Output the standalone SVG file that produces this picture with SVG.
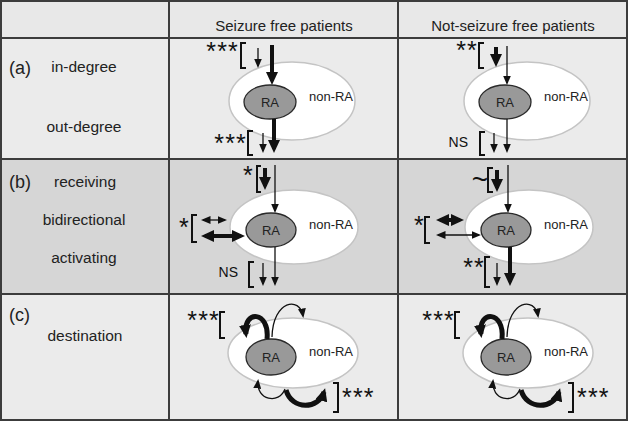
<svg xmlns="http://www.w3.org/2000/svg" width="630" height="422" viewBox="0 0 630 422">
<defs>
<style>
.grid{stroke:#3c3c3c;stroke-width:2;fill:none}
.hdr{font-family:"Liberation Sans",Arial,sans-serif;font-size:15px;fill:#222;text-anchor:middle}
.lbl{font-family:"Liberation Sans",Arial,sans-serif;font-size:15.5px;fill:#222;text-anchor:middle}
.tag{font-family:"Liberation Sans",Arial,sans-serif;font-size:18px;fill:#222}
.outer{fill:#fff;stroke:#c4c4c4;stroke-width:1.5}
.ra{fill:#999;stroke:#2a2a2a;stroke-width:1.3}
.nt{font-family:"Liberation Sans",Arial,sans-serif;font-size:13px;fill:#222;text-anchor:middle}
.star{font-family:"Liberation Sans",Arial,sans-serif;font-size:25px;fill:#111;text-anchor:end;letter-spacing:1.2px}
.ns{font-family:"Liberation Sans",Arial,sans-serif;font-size:14px;fill:#111;text-anchor:end}
.thin{stroke:#111;stroke-width:1.3;fill:none;marker-end:url(#ht)}
.thick{stroke:#111;stroke-width:4;fill:none;marker-end:url(#hk)}
.loop{stroke:#111;stroke-width:5;fill:none;marker-end:url(#hk)}
.dthin{stroke:#111;stroke-width:1.3;fill:none;marker-start:url(#ht);marker-end:url(#ht)}
.dthick{stroke:#111;stroke-width:4;fill:none;marker-start:url(#hk);marker-end:url(#hk)}
.br{stroke:#111;stroke-width:2;fill:none}
</style>
<marker id="ht" markerUnits="userSpaceOnUse" viewBox="0 0 9.5 8" markerWidth="9.5" markerHeight="8" refX="7.5" refY="4" orient="auto-start-reverse"><path d="M0,0 L9.5,4 L0,8 z" fill="#111"/></marker>
<marker id="hk" markerUnits="userSpaceOnUse" viewBox="0 0 13 12" markerWidth="13" markerHeight="12" refX="9" refY="6" orient="auto-start-reverse"><path d="M0,0 L13,6 L0,12 z" fill="#111"/></marker>
</defs>

<g id="table">
<rect x="1" y="1" width="626" height="37" fill="#e8e8e8"/>
<rect x="1" y="38" width="626" height="121" fill="#ebebeb"/>
<rect x="1" y="159" width="626" height="135" fill="#d6d6d6"/>
<rect x="1" y="294" width="626" height="126" fill="#ebebeb"/>
<rect class="grid" x="1" y="1" width="626" height="419"/>
<line class="grid" x1="1" y1="38" x2="627" y2="38"/>
<line class="grid" x1="1" y1="159" x2="627" y2="159"/>
<line class="grid" x1="1" y1="294" x2="627" y2="294"/>
<line class="grid" x1="169" y1="1" x2="169" y2="420"/>
<line class="grid" x1="398" y1="1" x2="398" y2="420"/>
<text class="hdr" x="284" y="31">Seizure free patients</text>
<text class="hdr" x="513" y="31">Not-seizure free patients</text>
<text class="tag" x="9" y="74">(a)</text>
<text class="lbl" x="84" y="72">in-degree</text>
<text class="lbl" x="84" y="132">out-degree</text>
<text class="tag" x="9" y="188">(b)</text>
<text class="lbl" x="85" y="187">receiving</text>
<text class="lbl" x="84" y="225">bidirectional</text>
<text class="lbl" x="84" y="263">activating</text>
<text class="tag" x="9" y="321">(c)</text>
<text class="lbl" x="85" y="341">destination</text>
</g>

<!-- Row (a) -->
<g id="a-sf-nonRA"><ellipse class="outer" cx="292" cy="101" rx="63" ry="39"/><text class="nt" x="331" y="101">non-RA</text></g>
<g id="a-sf-RA"><ellipse class="ra" cx="270" cy="102" rx="26" ry="17"/><text class="nt" x="270" y="107">RA</text></g>
<g id="a-nsf-nonRA"><ellipse class="outer" cx="527" cy="101" rx="63" ry="39"/><text class="nt" x="566" y="101">non-RA</text></g>
<g id="a-nsf-RA"><ellipse class="ra" cx="505" cy="102" rx="26" ry="17"/><text class="nt" x="505" y="107">RA</text></g>

<!-- Row (b) -->
<g id="b-sf-nonRA"><ellipse class="outer" cx="294" cy="227" rx="64" ry="37"/><text class="nt" x="331" y="229">non-RA</text></g>
<g id="b-sf-RA"><ellipse class="ra" cx="271" cy="230" rx="25" ry="17"/><text class="nt" x="271" y="235">RA</text></g>
<g id="b-nsf-nonRA"><ellipse class="outer" cx="529" cy="227" rx="64" ry="37"/><text class="nt" x="566" y="229">non-RA</text></g>
<g id="b-nsf-RA"><ellipse class="ra" cx="506" cy="230" rx="25" ry="17"/><text class="nt" x="506" y="235">RA</text></g>

<!-- Row (c) -->
<g id="c-sf-nonRA"><ellipse class="outer" cx="293" cy="353" rx="65" ry="35"/><text class="nt" x="331" y="356">non-RA</text></g>
<g id="c-sf-RA"><ellipse class="ra" cx="271" cy="357" rx="25" ry="18"/><text class="nt" x="271" y="362">RA</text></g>
<g id="c-nsf-nonRA"><ellipse class="outer" cx="528" cy="353" rx="65" ry="35"/><text class="nt" x="566" y="356">non-RA</text></g>
<g id="c-nsf-RA"><ellipse class="ra" cx="506" cy="357" rx="25" ry="18"/><text class="nt" x="506" y="362">RA</text></g>

<g id="connectors">
<!-- a, seizure free -->
<g id="conn-a-sf">
<text class="star" x="239" y="60">***</text>
<path class="br" d="M246,43 H241 V68 H246"/>
<line class="thin" x1="258" y1="48" x2="258" y2="66"/>
<line class="thick" x1="272" y1="45" x2="272" y2="81"/>
<text class="star" x="247" y="152">***</text>
<path class="br" d="M253,131 H248 V155 H253"/>
<line class="thin" x1="263" y1="133" x2="263" y2="151"/>
<line class="thick" x1="274" y1="119" x2="274" y2="149"/>
</g>
<!-- a, not seizure free -->
<g id="conn-a-nsf">
<text class="star" x="478" y="59">**</text>
<path class="br" d="M484,43 H479 V68 H484"/>
<line class="thick" x1="496" y1="47" x2="496" y2="63"/>
<line class="thin" x1="507" y1="46" x2="507" y2="83"/>
<text class="ns" x="468" y="147">NS</text>
<path class="br" d="M485,132 H480 V155 H485"/>
<line class="thin" x1="494" y1="133" x2="494" y2="151"/>
<line class="thin" x1="507" y1="119" x2="507" y2="151"/>
</g>
<!-- b, seizure free -->
<g id="conn-b-sf">
<text class="star" x="254" y="184">*</text>
<path class="br" d="M261,166 H257 V192 H261"/>
<line class="thick" x1="265" y1="168" x2="265" y2="186"/>
<line class="thin" x1="275" y1="165" x2="275" y2="211"/>
<text class="star" x="190" y="236">*</text>
<path class="br" d="M197,215 H192 V242 H197"/>
<line class="dthin" x1="203" y1="220" x2="225" y2="220"/>
<line class="dthick" x1="205" y1="236" x2="241" y2="236"/>
<text class="ns" x="238" y="277">NS</text>
<path class="br" d="M254,262 H249 V287 H254"/>
<line class="thin" x1="263" y1="263" x2="263" y2="284"/>
<line class="thin" x1="275" y1="247" x2="275" y2="284"/>
</g>
<!-- b, not seizure free -->
<g id="conn-b-nsf">
<text class="star" x="488" y="189" style="font-size:28px;letter-spacing:0">~</text>
<path class="br" d="M493,168 H488 V192 H493"/>
<line class="thick" x1="497" y1="170" x2="497" y2="188"/>
<line class="thin" x1="508" y1="165" x2="508" y2="211"/>
<text class="star" x="425" y="234">*</text>
<path class="br" d="M430,217 H425 V243 H430"/>
<line class="dthick" x1="440" y1="220" x2="460" y2="220"/>
<line class="dthin" x1="438" y1="235" x2="479" y2="235"/>
<text class="star" x="485" y="276">**</text>
<path class="br" d="M490,257 H485 V287 H490"/>
<line class="thin" x1="497" y1="263" x2="497" y2="284"/>
<line class="thick" x1="510" y1="247" x2="510" y2="282"/>
</g>
<!-- c, seizure free -->
<g id="conn-c-sf">
<text class="star" x="220" y="329">***</text>
<path class="br" d="M225,312 H220 V338 H225"/>
<path class="loop" d="M267,339 C270,311 243,309 246,334"/>
<path class="thin" d="M272,337 C273,300 300,296 303,316"/>
<path class="thin" d="M285,389 C279,405 256,400 258,381"/>
<path class="loop" d="M286,390 C292,411 319,409 324,392"/>
<path class="br" d="M333,383 H338 V412 H333"/>
<text class="star" x="342" y="406" style="text-anchor:start">***</text>
</g>
<!-- c, not seizure free -->
<g id="conn-c-nsf" transform="translate(235,0)">
<text class="star" x="220" y="329">***</text>
<path class="br" d="M225,312 H220 V338 H225"/>
<path class="loop" d="M267,339 C270,311 243,309 246,334"/>
<path class="thin" d="M272,337 C273,300 300,296 303,316"/>
<path class="thin" d="M285,389 C279,405 256,400 258,381"/>
<path class="loop" d="M286,390 C292,411 319,409 324,392"/>
<path class="br" d="M333,383 H338 V412 H333"/>
<text class="star" x="342" y="406" style="text-anchor:start">***</text>
</g>
</g>
</svg>
